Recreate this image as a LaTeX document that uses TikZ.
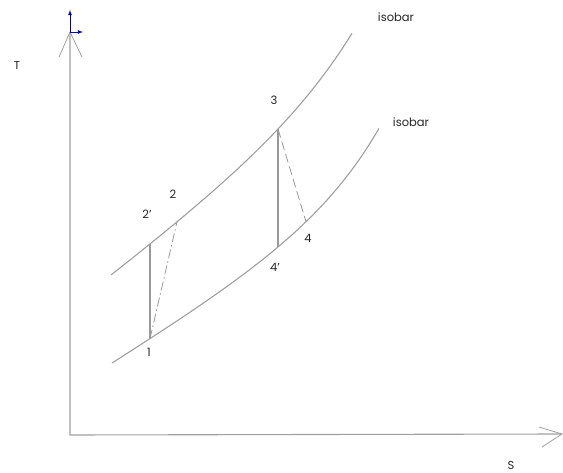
\documentclass[tikz,border=0pt]{standalone}
\usepackage{fontspec}
\setmainfont{Poppins}
\newcommand{\sq}{{\char"0027}}
\begin{document}
\begin{tikzpicture}[x=1pt,y=-1pt,
  axis/.style={draw=gray!75,line width=1.1pt},
  curve/.style={draw=gray!75,line width=1.1pt},
  proc/.style={draw=gray!80,line width=1.2pt},
  lbl/.style={text=gray!30!black,font=\fontsize{11.5}{13}\selectfont,inner sep=0pt},
  ucs/.style={draw=blue!70!black,line width=0.8pt,-latex}]
\useasboundingbox (0,0) rectangle (563,473);
% axes
\coordinate (O) at (70,435);
\coordinate (Ty) at (70,32);
\coordinate (Sx) at (562,434);
\coordinate (ta) at (59,57);
\coordinate (tb) at (82,57);
\coordinate (sa) at (539,427);
\coordinate (sb) at (542,447);
\draw[axis] (Ty) -- (O) -- (Sx);
\draw[axis,line width=0.8pt] (ta) -- (Ty) -- (tb);
\draw[axis,line width=0.8pt] (sa) -- (Sx) -- (sb);
\coordinate (u1) at (70,10);
\coordinate (u2) at (83,32);
\draw[ucs] (Ty) -- (u1);
\draw[ucs] (Ty) -- (u2);
% state points
\coordinate (p1) at (150,338.6);
\coordinate (p2s) at (150,243.9);
\coordinate (p2) at (177,221.8);
\coordinate (p3) at (278,129);
\coordinate (p4s) at (278,247);
\coordinate (p4) at (306,221.7);
% isobars
\draw[curve] plot[domain=111:352,samples=80,smooth]
  (\x,{275-0.76*(\x-111)-1.935*(exp((\x-111)/70)-1)});
\draw[curve] plot[domain=112:379,samples=80,smooth]
  (\x,{363-0.62*(\x-112)-1.012*(exp((\x-112)/63)-1)});
% processes
\draw[proc] (p1) -- (p2s);
\draw[proc,line width=0.8pt,dash pattern=on 9pt off 3pt on 1.5pt off 3pt] (p1) -- (p2);
\draw[proc] (p3) -- (p4s);
\draw[proc,line width=0.8pt,dash pattern=on 9pt off 4pt] (p3) -- (p4);
% labels
\node[lbl] (T) at (17,65) {T};
\node[lbl] (S) at (511,465) {S};
\node[lbl] (L1) at (149,352) {1};
\node[lbl] (L2s) at (147,214) {2\sq};
\node[lbl] (L2) at (173,194) {2};
\node[lbl] (L3) at (274,100) {3};
\node[lbl] (L4s) at (275,267) {4\sq};
\node[lbl] (L4) at (308,238) {4};
\node[lbl] (iso1) at (396,17) {isobar};
\node[lbl] (iso2) at (411,122) {isobar};
\end{tikzpicture}
\end{document}
